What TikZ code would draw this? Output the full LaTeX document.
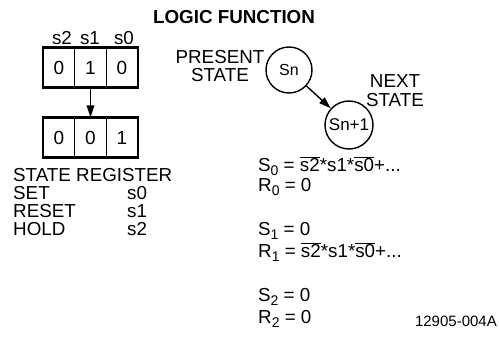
\documentclass[tikz,border=0pt]{standalone}
\usepackage{fontspec}
\setmainfont{Liberation Sans}
\usetikzlibrary{arrows.meta}
\newcommand\mysub[1]{\raisebox{-0.35ex}{\fontsize{14}{14}\selectfont #1}}
\newcommand\myov[1]{$\overline{\mbox{#1}}$}
\begin{document}
\begin{tikzpicture}[x=1pt,y=-1pt,
  txt/.style={inner sep=0pt, font=\fontsize{18.8}{18}\selectfont},
  cell/.style={draw, line width=1.2pt, minimum width=31.5pt, minimum height=39pt, inner sep=0pt, font=\fontsize{19}{20}\selectfont},
  frame/.style={draw, line width=2pt},
  state/.style={draw, circle, line width=1.4pt, inner sep=0pt},
  conn/.style={line width=1.4pt, -{Triangle[length=12pt,width=7.5pt]}},
]
\useasboundingbox (0,0) rectangle (499,345);
% title
\node[txt, font=\bfseries\fontsize{18.8}{18}\selectfont] (title) at (234,17) {LOGIC FUNCTION};
% register labels
\node[txt] (l2) at (62,38) {s2};
\node[txt] (l1) at (90,38) {s1};
\node[txt] (l0) at (124,38) {s0};
% top register
\node[cell] (t2) at (59,67.5) {0};
\node[cell] (t1) at (90.5,67.5) {1};
\node[cell] (t0) at (122,67.5) {0};
\draw[frame] (t2.north west) rectangle (t0.south east);
% bottom register
\node[cell] (b2) at (59,137.5) {0};
\node[cell] (b1) at (90.5,137.5) {0};
\node[cell] (b0) at (122,137.5) {1};
\draw[frame] (b2.north west) rectangle (b0.south east);
\draw[conn] (t1.south) -- (b1.north);
% legend
\node[txt, anchor=west] (sr) at (13,175) {STATE REGISTER};
\node[txt, anchor=west] (set) at (13,193) {SET};
\node[txt, anchor=west] (reset) at (13,211) {RESET};
\node[txt, anchor=west] (hold) at (13,229) {HOLD};
\node[txt, anchor=west] (vset) at (127,193) {s0};
\node[txt, anchor=west] (vreset) at (127,211) {s1};
\node[txt, anchor=west] (vhold) at (127,229) {s2};
% state diagram
\node[txt, align=center] (ps) at (220,66) {PRESENT\\STATE};
\node[state, minimum size=46pt, font=\fontsize{16}{16}\selectfont] (sn) at (289,70) {Sn};
\node[state, minimum size=48pt, font=\fontsize{17}{17}\selectfont] (sn1) at (349,125) {Sn+1};
\draw[conn] (sn) -- (sn1);
\node[txt, align=center, font=\fontsize{18.8}{19}\selectfont] (ns) at (395,91) {NEXT\\STATE};
% equations
\node[txt, anchor=west] (e1) at (258,166) {S\mysub{0} = \myov{s2}*s1*\myov{s0}+...};
\node[txt, anchor=west] (e2) at (258,187) {R\mysub{0} = 0};
\node[txt, anchor=west] (e3) at (258,231) {S\mysub{1} = 0};
\node[txt, anchor=west] (e4) at (258,252) {R\mysub{1} = \myov{s2}*s1*\myov{s0}+...};
\node[txt, anchor=west] (e5) at (258,297) {S\mysub{2} = 0};
\node[txt, anchor=west] (e6) at (258,319) {R\mysub{2} = 0};
\node[txt, anchor=east, font=\fontsize{15}{16}\selectfont] (code) at (497,321) {12905-004A};
\end{tikzpicture}
\end{document}
